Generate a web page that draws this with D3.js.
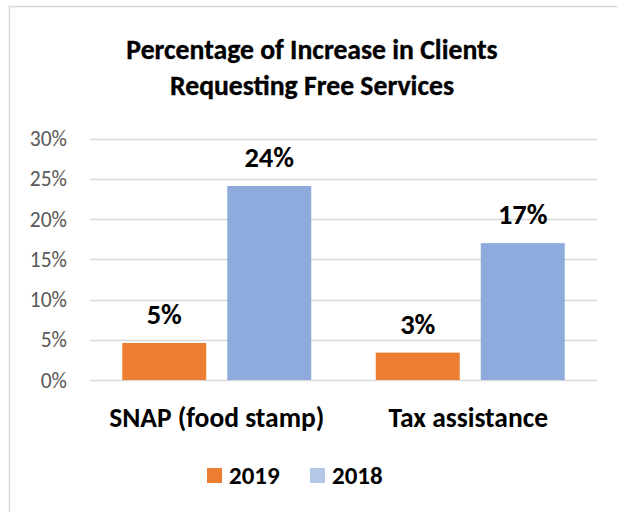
<!DOCTYPE html>
<html>
<head>
<meta charset="utf-8">
<script src="https://cdn.jsdelivr.net/npm/d3@7"></script>
<style>
  body { margin: 0; background: #fff; }
  text { font-family: Carlito, Lato, sans-serif; }
</style>
</head>
<body>
<svg id="chart" width="618" height="512"></svg>
<script>
// Data
const categories = ["SNAP (food stamp)", "Tax assistance"];
const seriesNames = ["2019", "2018"];
const values2019 = [0.046, 0.034];
const values2018 = [0.241, 0.17];
const yTicks = [0, 0.05, 0.10, 0.15, 0.20, 0.25, 0.30];
const titleLines = ["Percentage of Increase in Clients", "Requesting Free Services"];

const barColors = ["#ed7d31", "#8faadc"];
const legendColors = ["#ed7d31", "#b4c7e7"];

var svg = d3.select("#chart");

// chart area border
svg.append("rect")
    .attr("x", 9.5).attr("y", 6.5)
    .attr("width", 640).attr("height", 540)
    .attr("fill", "white")
    .attr("stroke", "#d9d9d9")
    .attr("stroke-width", 1.5);

// title
svg.selectAll(".title")
    .data(titleLines)
    .enter().append("text")
    .attr("class", "title")
    .attr("x", 312)
    .attr("y", (d, i) => 59 + i * 36)
    .attr("text-anchor", "middle")
    .attr("font-size", 27.7)
    .attr("font-weight", "bold")
    .attr("fill", "#000")
    .attr("stroke", "#000")
    .attr("stroke-width", 0.35)
    .text(d => d);

var plot = {left: 90, right: 597, top: 138.5, bottom: 380};

var y = d3.scaleLinear()
    .domain([0, 0.30])
    .range([plot.bottom, plot.top]);

var x0 = d3.scaleBand()
    .domain(categories)
    .range([plot.left, plot.right])
    .paddingInner(0)
    .paddingOuter(0);

// group of two bars + gap; bar width 84, inner gap 21
var x1 = d3.scaleBand()
    .domain(seriesNames)
    .range([0, 189])
    .paddingInner(0.2);

var groupOffset = (x0.bandwidth() - 189) / 2;

// gridlines
svg.append("g")
    .selectAll("line")
    .data(yTicks)
    .enter().append("line")
    .attr("x1", plot.left).attr("x2", plot.right)
    .attr("y1", d => Math.round(y(d)) + 0.5)
    .attr("y2", d => Math.round(y(d)) + 0.5)
    .attr("stroke", "#d9d9d9")
    .attr("stroke-width", 1.3);

// y axis labels
var yAxis = d3.axisLeft(y)
    .tickValues(yTicks)
    .tickFormat(d3.format(".0%"))
    .tickSize(0)
    .tickPadding(0);

var ya = svg.append("g")
    .attr("transform", "translate(67,0)")
    .call(yAxis);
ya.select(".domain").remove();
ya.selectAll("text")
    .attr("font-family", null)
    .attr("font-size", 21.5)
    .attr("fill", "#595959")
    .attr("dy", "0.33em");

// bars
var rows = categories.map((c, i) => ({cat: c, vals: [values2019[i], values2018[i]]}));

var groups = svg.selectAll(".grp")
    .data(rows)
    .enter().append("g")
    .attr("class", "grp")
    .attr("transform", d => "translate(" + (x0(d.cat) + groupOffset) + ",0)");

groups.selectAll("rect")
    .data(d => d.vals.map((v, j) => ({key: seriesNames[j], v: v, j: j})))
    .enter().append("rect")
    .attr("x", d => x1(d.key))
    .attr("width", x1.bandwidth())
    .attr("y", d => y(d.v))
    .attr("height", d => plot.bottom - y(d.v))
    .attr("fill", d => barColors[d.j]);

groups.selectAll(".lbl")
    .data(d => d.vals.map((v, j) => ({key: seriesNames[j], v: v})))
    .enter().append("text")
    .attr("class", "lbl")
    .attr("x", d => x1(d.key) + x1.bandwidth() / 2)
    .attr("y", d => y(d.v) - 19)
    .attr("text-anchor", "middle")
    .attr("font-size", 28.5)
    .attr("font-weight", "bold")
    .attr("fill", "#000")
    .text(d => d3.format(".0%")(Math.round(d.v * 100) / 100));

// category labels
var xAxis = d3.axisBottom(x0).tickSize(0).tickPadding(0);
var xa = svg.append("g")
    .attr("transform", "translate(0," + plot.bottom + ")")
    .call(xAxis);
xa.select(".domain").remove();
xa.selectAll("text")
    .attr("font-family", null)
    .attr("font-size", 27.5)
    .attr("font-weight", "bold")
    .attr("fill", "#000")
    .attr("y", 47)
    .attr("dy", null);
xa.selectAll(".tick").filter((d, i) => i === 1)
    .attr("transform", "translate(" + (x0("Tax assistance") + x0.bandwidth() / 2 - 2) + ",0)");

// legend
var legend = svg.append("g")
    .attr("transform", "translate(207,468)");

var items = legend.selectAll("g")
    .data(seriesNames)
    .enter().append("g")
    .attr("transform", (d, i) => "translate(" + (i * 103) + ",0)");

items.append("rect")
    .attr("width", 15).attr("height", 15)
    .attr("fill", (d, i) => legendColors[i]);

items.append("text")
    .attr("x", 22)
    .attr("y", 15.5)
    .attr("font-size", 25)
    .attr("font-weight", "bold")
    .attr("fill", "#000")
    .text(d => d);
</script>
</body>
</html>
